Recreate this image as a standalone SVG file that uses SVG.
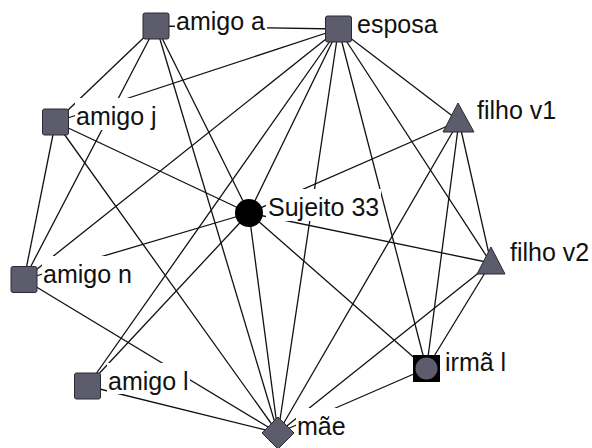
<svg xmlns="http://www.w3.org/2000/svg" width="592" height="448" viewBox="0 0 592 448">
<style>
.e line{stroke:#111;stroke-width:1.3;fill:none}
.lb{fill:#fff}
.n{fill:#5c5c6c;stroke:#2a2a33;stroke-width:1}
text{font-family:"Liberation Sans",Arial,sans-serif;font-size:25px;fill:#111}
</style>
<rect width="592" height="448" fill="#fff"/>
<g id="edges" class="e">
<line x1="156" y1="26" x2="338.5" y2="29"/>
<line x1="156" y1="26" x2="55.5" y2="122"/>
<line x1="156" y1="26" x2="24" y2="279.5"/>
<line x1="156" y1="26" x2="249" y2="213"/>
<line x1="156" y1="26" x2="278" y2="433"/>
<line x1="55.5" y1="122" x2="338.5" y2="29"/>
<line x1="55.5" y1="122" x2="249" y2="213"/>
<line x1="55.5" y1="122" x2="24" y2="279.5"/>
<line x1="55.5" y1="122" x2="278" y2="433"/>
<line x1="24" y1="279.5" x2="338.5" y2="29"/>
<line x1="24" y1="279.5" x2="249" y2="213"/>
<line x1="24" y1="279.5" x2="278" y2="433"/>
<line x1="87.5" y1="386" x2="338.5" y2="29"/>
<line x1="87.5" y1="386" x2="249" y2="213"/>
<line x1="87.5" y1="386" x2="278" y2="433"/>
<line x1="338.5" y1="29" x2="249" y2="213"/>
<line x1="338.5" y1="29" x2="278" y2="433"/>
<line x1="338.5" y1="29" x2="426.5" y2="368.5"/>
<line x1="338.5" y1="29" x2="459" y2="121"/>
<line x1="338.5" y1="29" x2="491" y2="263"/>
<line x1="249" y1="213" x2="459" y2="121"/>
<line x1="249" y1="213" x2="491" y2="263"/>
<line x1="249" y1="213" x2="426.5" y2="368.5"/>
<line x1="249" y1="213" x2="278" y2="433"/>
<line x1="459" y1="121" x2="491" y2="263"/>
<line x1="459" y1="121" x2="426.5" y2="368.5"/>
<line x1="459" y1="121" x2="278" y2="433"/>
<line x1="491" y1="263" x2="426.5" y2="368.5"/>
<line x1="491" y1="263" x2="278" y2="433"/>
<line x1="426.5" y1="368.5" x2="278" y2="433"/>
</g>
<g id="amigo-a">
<rect class="lb" x="175" y="3" width="92" height="32"/>
<rect class="n" x="143" y="13" width="26" height="26" rx="2"/>
<text x="176" y="30">amigo a</text>
</g>
<g id="esposa">
<rect class="lb" x="356" y="6" width="84" height="32"/>
<rect class="n" x="325.5" y="16" width="26" height="26" rx="2"/>
<text x="357" y="33">esposa</text>
</g>
<g id="amigo-j">
<rect class="lb" x="75" y="98" width="84" height="32"/>
<rect class="n" x="42.5" y="109" width="26" height="26" rx="2"/>
<text x="76" y="125">amigo j</text>
</g>
<g id="filho-v1">
<rect class="lb" x="476" y="92" width="82" height="32"/>
<polygon class="n" points="458,103 474,132 443,132"/>
<text x="477" y="119">filho v1</text>
</g>
<g id="sujeito-33">
<rect class="lb" x="266" y="189" width="115" height="32"/>
<circle cx="249" cy="213" r="14" fill="#000"/>
<text x="268" y="216">Sujeito 33</text>
</g>
<g id="filho-v2">
<rect class="lb" x="509" y="234" width="82" height="32"/>
<polygon class="n" points="491,247 505,274 477,274"/>
<text x="510" y="261">filho v2</text>
</g>
<g id="amigo-n">
<rect class="lb" x="42" y="256" width="92" height="32"/>
<rect class="n" x="11" y="266.5" width="26" height="26" rx="2"/>
<text x="43" y="283">amigo n</text>
</g>
<g id="irma-l">
<rect class="lb" x="444" y="344" width="63" height="32"/>
<rect x="413" y="355" width="27" height="27" fill="#000"/>
<circle cx="426.5" cy="368.5" r="11" fill="#5c5c6c"/>
<text x="445" y="371">irmã l</text>
</g>
<g id="amigo-l">
<rect class="lb" x="107" y="363" width="83" height="31"/>
<rect class="n" x="74.5" y="373" width="26" height="26" rx="2"/>
<text x="108" y="390">amigo l</text>
</g>
<g id="mae">
<rect class="lb" x="296" y="408" width="51" height="32"/>
<polygon class="n" points="278,417 294,433 278,449 262,433"/>
<text x="297" y="435">mãe</text>
</g>
</svg>
